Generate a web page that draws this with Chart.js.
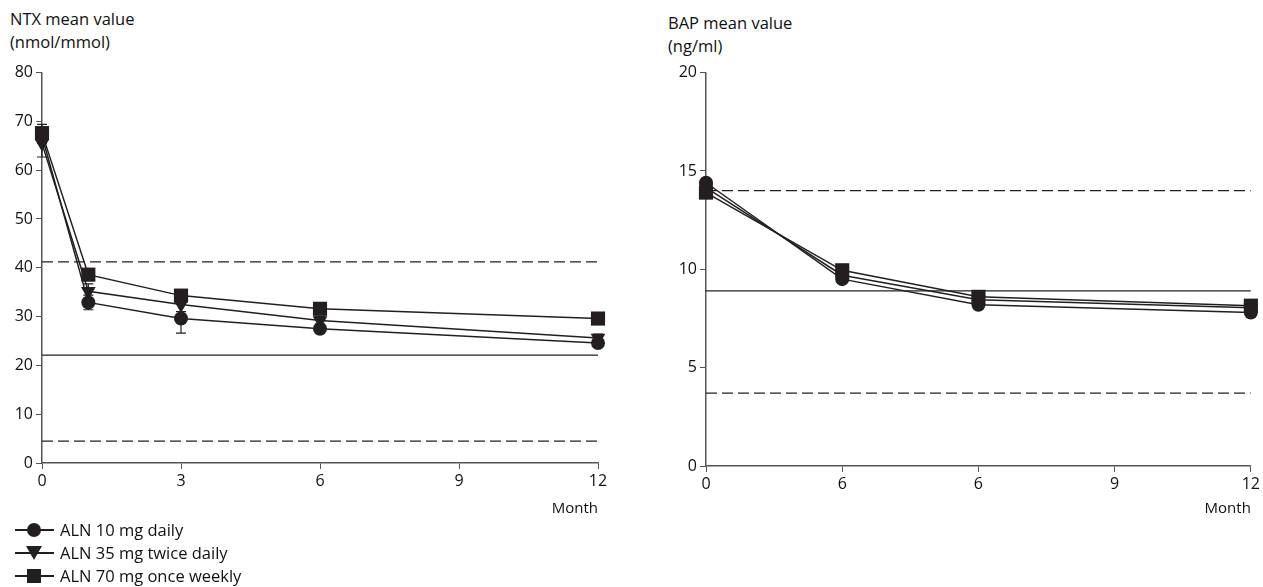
<!DOCTYPE html>
<html>
<head>
<meta charset="utf-8">
<script src="https://cdn.jsdelivr.net/npm/chart.js@4"></script>
<style>
  body { margin: 0; background: #fff; font-family: "Open Sans", sans-serif; color: #111; }
  #page { position: relative; width: 1263px; height: 587px; overflow: hidden; }
  canvas { position: absolute; }
  .title { position: absolute; font-size: 16.5px; line-height: 23px; }
  .legend { position: absolute; left: 15px; top: 518px; font-size: 16.5px; line-height: 23px; }
  .legend div { position: relative; padding-left: 45px; height: 23px; }
  .legend .line { position: absolute; left: 0; top: 11px; width: 39px; height: 1.5px; background: #231f20; }
  .legend .mk { position: absolute; background: #231f20; }
  .legend .circle { left: 12px; top: 5px; width: 14px; height: 14px; border-radius: 50%; }
  .legend .square { left: 12px; top: 5px; width: 14px; height: 14px; }
  .legend .tri { left: 11px; top: 5px; width: 0; height: 0; background: none;
    border-left: 8px solid transparent; border-right: 8px solid transparent; border-top: 14px solid #231f20; }
</style>
</head>
<body>
<div id="page">
  <div class="title" style="left:10px; top:7px;">NTX mean value<br>(nmol/mmol)</div>
  <div class="title" style="left:668px; top:11px;">BAP mean value<br>(ng/ml)</div>
  <canvas id="ntxChart" width="640" height="460" style="left:0; top:60px;"></canvas>
  <canvas id="bapChart" width="603" height="460" style="left:660px; top:60px;"></canvas>
  <div class="legend">
    <div><span class="line"></span><span class="mk circle"></span>ALN 10 mg daily</div>
    <div><span class="line"></span><span class="mk tri"></span>ALN 35 mg twice daily</div>
    <div><span class="line"></span><span class="mk square"></span>ALN 70 mg once weekly</div>
  </div>
</div>
<script>
// NTX (left panel)
const ntxMonths = [0, 1, 3, 6, 12];
const ntxDaily = [67.0, 32.9, 29.6, 27.5, 24.6];
const ntxTwice = [65.5, 35.2, 32.5, 29.2, 25.6];
const ntxWeekly = [67.6, 38.6, 34.3, 31.6, 29.6];
const ntxDailyErr = [1.5, 1.5, 3.0, 0.8, 0.8];
const ntxTwiceErr = [2.8, 1.5, 1.5, 0.8, 0.8];
const ntxWeeklyErr = [1.8, 1.0, 1.0, 0.6, 0.6];
const ntxRefLines = [41.2, 22.1, 4.5];
const ntxTickLabels = ['0', '3', '6', '9', '12'];

// BAP (right panel)
const bapMonths = [0, 3, 6, 12];
const bapDaily = [14.4, 9.5, 8.2, 7.8];
const bapTwice = [14.15, 9.7, 8.45, 8.05];
const bapWeekly = [13.9, 9.95, 8.6, 8.15];
const bapRefLines = [14.0, 8.9, 3.7];
const bapTickLabels = ['0', '6', '6', '9', '12'];

const ink = '#231f20';
const axisColor = '#555';

function pts(xs, ys) {
  return xs.map((x, i) => ({ x: x, y: ys[i] }));
}

function series(xs, ys, style, radius, errs) {
  return {
    data: pts(xs, ys),
    borderColor: ink,
    backgroundColor: ink,
    borderWidth: 1.5,
    pointStyle: style,
    pointRadius: radius,
    pointRotation: style === 'triangle' ? 180 : 0,
    pointBorderWidth: 0,
    errors: errs,
    clip: false
  };
}

function refLine(y, dashed) {
  return {
    data: [{ x: 0, y: y }, { x: 12, y: y }],
    borderColor: '#222',
    borderWidth: 1.2,
    borderDash: dashed ? [11, 5] : [],
    pointRadius: 0
  };
}

// draws error bars under the markers
const errorBars = {
  id: 'errorBars',
  beforeDatasetsDraw(chart) {
    const ctx = chart.ctx;
    const xs = chart.scales.x, ys = chart.scales.y;
    ctx.save();
    ctx.strokeStyle = ink;
    ctx.lineWidth = 1.2;
    chart.data.datasets.forEach(ds => {
      if (!ds.errors) return;
      ds.data.forEach((p, i) => {
        const e = ds.errors[i];
        const px = xs.getPixelForValue(p.x);
        const top = ys.getPixelForValue(p.y + e);
        const bot = ys.getPixelForValue(p.y - e);
        ctx.beginPath();
        ctx.moveTo(px, top); ctx.lineTo(px, bot);
        ctx.moveTo(px - 5, top); ctx.lineTo(px + 5, top);
        ctx.moveTo(px - 5, bot); ctx.lineTo(px + 5, bot);
        ctx.stroke();
      });
    });
    ctx.restore();
  }
};

function makeOptions(yMax, yStep, tickLabels, yWidth, xHeight, pad) {
  return {
    responsive: false,
    animation: false,
    layout: { padding: pad },
    plugins: { legend: { display: false }, tooltip: { enabled: false } },
    scales: {
      x: {
        type: 'linear', min: 0, max: 12,
        afterBuildTicks: s => { s.ticks = [0, 3, 6, 9, 12].map(v => ({ value: v })); },
        ticks: {
          callback: (v, i) => tickLabels[i],
          color: '#111', font: { family: 'Open Sans', size: 16 }, padding: 3, maxRotation: 0
        },
        grid: { drawOnChartArea: false, drawTicks: true, tickLength: 6, color: axisColor },
        border: { color: axisColor, width: 1.5 },
        title: {
          display: true, text: 'Month', align: 'end', color: '#111',
          font: { family: 'Open Sans', size: 15 }, padding: { top: 0, bottom: 2 }
        },
        afterFit: s => { s.height = xHeight; }
      },
      y: {
        min: 0, max: yMax,
        ticks: { stepSize: yStep, color: '#111', font: { family: 'Open Sans', size: 16 }, padding: 3 },
        grid: { drawOnChartArea: false, drawTicks: true, tickLength: 6, color: axisColor },
        border: { color: axisColor, width: 1.5 },
        afterFit: s => { s.width = yWidth; }
      }
    }
  };
}

new Chart(document.getElementById('ntxChart'), {
  type: 'line',
  data: {
    datasets: [
      refLine(ntxRefLines[0], true),
      refLine(ntxRefLines[1], false),
      refLine(ntxRefLines[2], true),
      series(ntxMonths, ntxDaily, 'circle', 7, ntxDailyErr),
      series(ntxMonths, ntxTwice, 'triangle', 8.5, ntxTwiceErr),
      series(ntxMonths, ntxWeekly, 'rect', 10, ntxWeeklyErr)
    ]
  },
  options: makeOptions(80, 10, ntxTickLabels, 42, 57, { left: 0, right: 42, top: 8, bottom: 0 }),
  plugins: [errorBars]
});

new Chart(document.getElementById('bapChart'), {
  type: 'line',
  data: {
    datasets: [
      refLine(bapRefLines[0], true),
      refLine(bapRefLines[1], false),
      refLine(bapRefLines[2], true),
      series(bapMonths, bapDaily, 'circle', 7),
      series(bapMonths, bapTwice, 'triangle', 8.5),
      series(bapMonths, bapWeekly, 'rect', 10)
    ]
  },
  options: makeOptions(20, 5, bapTickLabels, 46, 54, { left: 0, right: 9, top: 12, bottom: 0 }),
  plugins: [errorBars]
});
</script>
</body>
</html>
